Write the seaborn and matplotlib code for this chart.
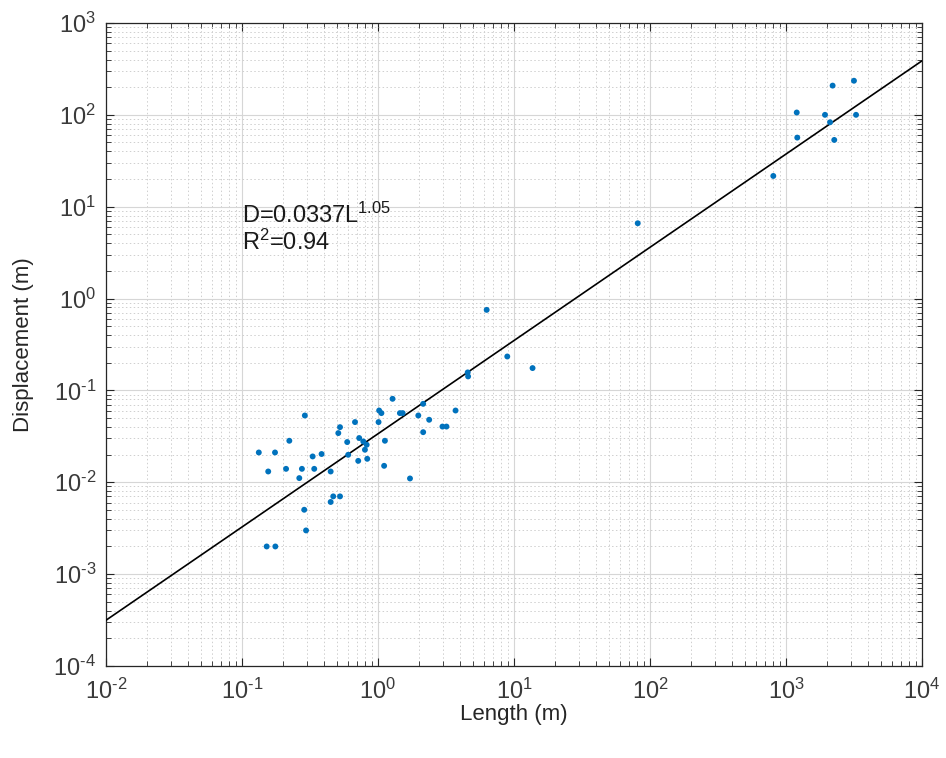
import numpy as np
import pandas as pd
import matplotlib
matplotlib.use("Agg")
import matplotlib.pyplot as plt
import seaborn as sns
from matplotlib.ticker import LogLocator, NullFormatter, FuncFormatter

# ---- data ----
length_m = [
    2203, 3162, 1200, 1936, 3275, 2109, 1211, 2265, 807,
    81.3, 6.3, 8.93, 13.7, 4.57, 4.60,
    0.29, 0.526, 0.511, 0.223, 0.594, 0.133, 0.175, 0.385, 0.331, 0.604,
    0.156, 0.211, 0.276, 0.34, 0.449, 0.264,
    1.28, 1.02, 1.06, 1.45, 1.52, 2.15, 1.98, 2.38, 3.72, 2.98, 3.19, 2.15,
    1.01, 0.678, 0.728, 0.78, 0.826, 0.802, 1.125, 0.716, 0.834, 1.11, 1.72,
    0.469, 0.526, 0.449, 0.287, 0.296, 0.152, 0.176,
]
displacement_m = [
    208, 235, 106, 100, 100, 83, 56.5, 53.3, 21.6,
    6.6, 0.753, 0.234, 0.175, 0.157, 0.142,
    0.0533, 0.0398, 0.0343, 0.0283, 0.0274, 0.0211, 0.0211, 0.0203, 0.0191, 0.0199,
    0.0131, 0.014, 0.014, 0.014, 0.0131, 0.0111,
    0.081, 0.0604, 0.0566, 0.0566, 0.0566, 0.0714, 0.0533, 0.0479, 0.0604, 0.0404, 0.0404, 0.0351,
    0.0452, 0.0452, 0.0303, 0.0278, 0.0256, 0.0226, 0.0283, 0.0171, 0.018, 0.0151, 0.011,
    0.00702, 0.00702, 0.0061, 0.00502, 0.00299, 0.002, 0.002,
]
fit_a = 0.0337
fit_b = 1.015
fit_x = [1e-2, 1e4]
x_label = "Length (m)"
y_label = "Displacement (m)"
eq_text = "D=0.0337L$^{1.05}$\nR$^{2}$=0.94"

df = pd.DataFrame({"L": length_m, "D": displacement_m})
fit_df = pd.DataFrame({"L": fit_x, "D": [fit_a * v ** fit_b for v in fit_x]})

# ---- style ----
sns.set_theme(style="white")
plt.rcParams["font.family"] = ["Liberation Sans", "DejaVu Sans"]
plt.rcParams["mathtext.fontset"] = "custom"
plt.rcParams["mathtext.rm"] = "Liberation Sans"
plt.rcParams["mathtext.it"] = "Liberation Sans:italic"
plt.rcParams["mathtext.bf"] = "Liberation Sans:bold"

fig = plt.figure(figsize=(9.46, 7.58), dpi=100)
ax = fig.add_axes([0.112, 0.1214, 0.8626, 0.8483])

ax.set_xscale("log")
ax.set_yscale("log")
ax.set_xlim(1e-2, 1e4)
ax.set_ylim(1e-4, 1e3)

# grids
ax.grid(True, which="major", color="#d6d6d6", linestyle="-", linewidth=0.8)
ax.grid(True, which="minor", color="#cfcfcf", linestyle=(0, (1.5, 2.5)), linewidth=0.7)
ax.set_axisbelow(True)

sns.lineplot(data=fit_df, x="L", y="D", ax=ax, color="black", linewidth=1.2, zorder=3)
sns.scatterplot(data=df, x="L", y="D", ax=ax, color="#0072BD", s=18,
                edgecolor="none", zorder=4)

def pow10(v, pos):
    e = int(round(np.log10(v)))
    return r"$\mathdefault{10^{%s}}$" % (("\u2010" + str(-e)) if e < 0 else str(e))

ax.xaxis.set_major_locator(LogLocator(base=10, numticks=20))
ax.yaxis.set_major_locator(LogLocator(base=10, numticks=20))
ax.xaxis.set_major_formatter(FuncFormatter(pow10))
ax.yaxis.set_major_formatter(FuncFormatter(pow10))
ax.xaxis.set_minor_locator(LogLocator(base=10, subs=np.arange(2, 10), numticks=100))
ax.yaxis.set_minor_locator(LogLocator(base=10, subs=np.arange(2, 10), numticks=100))
ax.xaxis.set_minor_formatter(NullFormatter())
ax.yaxis.set_minor_formatter(NullFormatter())

ax.tick_params(which="both", direction="in", top=True, right=True,
               bottom=True, left=True, colors="#262626", labelcolor="#3a3a3a")
ax.tick_params(which="major", length=6, width=0.8, labelsize=17)
ax.tick_params(axis="x", which="major", pad=9)
ax.tick_params(axis="y", which="major", pad=7)
ax.tick_params(which="minor", length=3.5, width=0.6)

for sp in ax.spines.values():
    sp.set_color("#262626")
    sp.set_linewidth(0.9)

ax.set_xlabel(x_label, fontsize=16, color="#262626", labelpad=0)
ax.set_ylabel(y_label, fontsize=16, color="#262626", labelpad=14)

ax.text(0.1, 5.8, eq_text, fontsize=17, color="#1a1a1a", ha="left", va="center",
        linespacing=1.1)

fig.savefig("out.png", dpi=100)
